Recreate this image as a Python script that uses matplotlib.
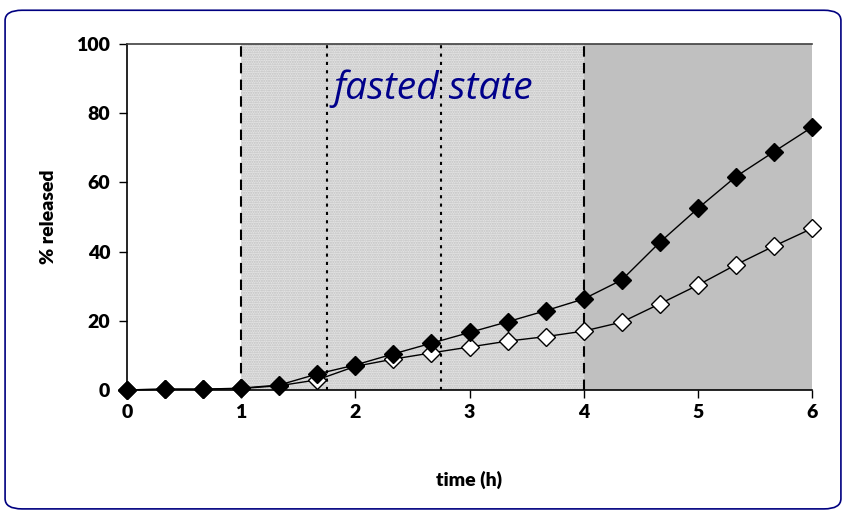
import matplotlib.pyplot as plt
from matplotlib.patches import FancyBboxPatch

# time points (h) and % released
time_h = [0, 1/3, 2/3, 1, 4/3, 5/3, 2, 7/3, 8/3, 3, 10/3, 11/3, 4, 13/3, 14/3, 5, 16/3, 17/3, 6]
filled = [0, 0.2, 0.2, 0.5, 1.4, 4.6, 7.2, 10.4, 13.5, 16.6, 19.7, 22.9, 26.3, 31.8, 42.7, 52.5, 61.7, 68.9, 76.0]
hollow = [0, 0.2, 0.2, 0.4, 1.2, 2.9, 6.8, 8.9, 10.7, 12.4, 14.1, 15.4, 17.0, 19.6, 24.9, 30.3, 36.2, 41.6, 46.7]

x_ticks = [0, 1, 2, 3, 4, 5, 6]
y_ticks = [0, 20, 40, 60, 80, 100]
dashed_at = [1, 4]
dotted_at = [1.75, 2.75]

plt.rcParams['font.family'] = ['Lato', 'DejaVu Sans']

fig = plt.figure(figsize=(8.46, 5.13), dpi=100)
ax = fig.add_axes([0.150, 0.240, 0.810, 0.674])

# background regions
ax.axvspan(1, 4, facecolor='#e4e4e4', edgecolor='#c0c0c0', hatch='.......', linewidth=0, zorder=0)
ax.axvspan(4, 6, facecolor='#c0c0c0', linewidth=0, zorder=0)

for x in dashed_at:
    ax.axvline(x, color='black', linestyle=(0, (5, 3)), linewidth=1.5, zorder=1)
for x in dotted_at:
    ax.axvline(x, color='black', linestyle=(0, (1.5, 2.5)), linewidth=1.5, zorder=1)

ax.plot(time_h, hollow, color='black', linewidth=1, marker='D', markersize=9,
        markerfacecolor='white', markeredgecolor='black', markeredgewidth=1,
        zorder=3, clip_on=False)
ax.plot(time_h, filled, color='black', linewidth=1, marker='D', markersize=9,
        markerfacecolor='black', markeredgecolor='black', zorder=4, clip_on=False)

ax.text(2.68, 87, 'fasted state', fontsize=28, style='italic', color='#00008b',
        ha='center', va='center', family=['Open Sans', 'DejaVu Sans'], zorder=5)

ax.set_xlim(0, 6)
ax.set_ylim(0, 100)
ax.set_xticks(x_ticks)
ax.set_yticks(y_ticks)
ax.tick_params(direction='out', length=6, width=1, labelsize=14)
ax.tick_params(axis='x', pad=4)
ax.tick_params(axis='y', pad=6)
for lab in ax.get_xticklabels() + ax.get_yticklabels():
    lab.set_fontweight('heavy')

ax.spines['right'].set_visible(False)
for s in ['left', 'bottom', 'top']:
    ax.spines[s].set_linewidth(1.2)
ax.spines['top'].set_color('#404040')

ax.set_xlabel('time (h)', fontsize=14, fontweight='heavy', labelpad=36)
ax.set_ylabel('% released', fontsize=14, fontweight='heavy', labelpad=14)

border = FancyBboxPatch((0.006, 0.008), 0.988, 0.972, boxstyle='round,pad=0,rounding_size=0.02',
                        transform=fig.transFigure, facecolor='none', edgecolor='#000080',
                        linewidth=1.2)
fig.patches.append(border)

fig.savefig('out.png', dpi=100)
